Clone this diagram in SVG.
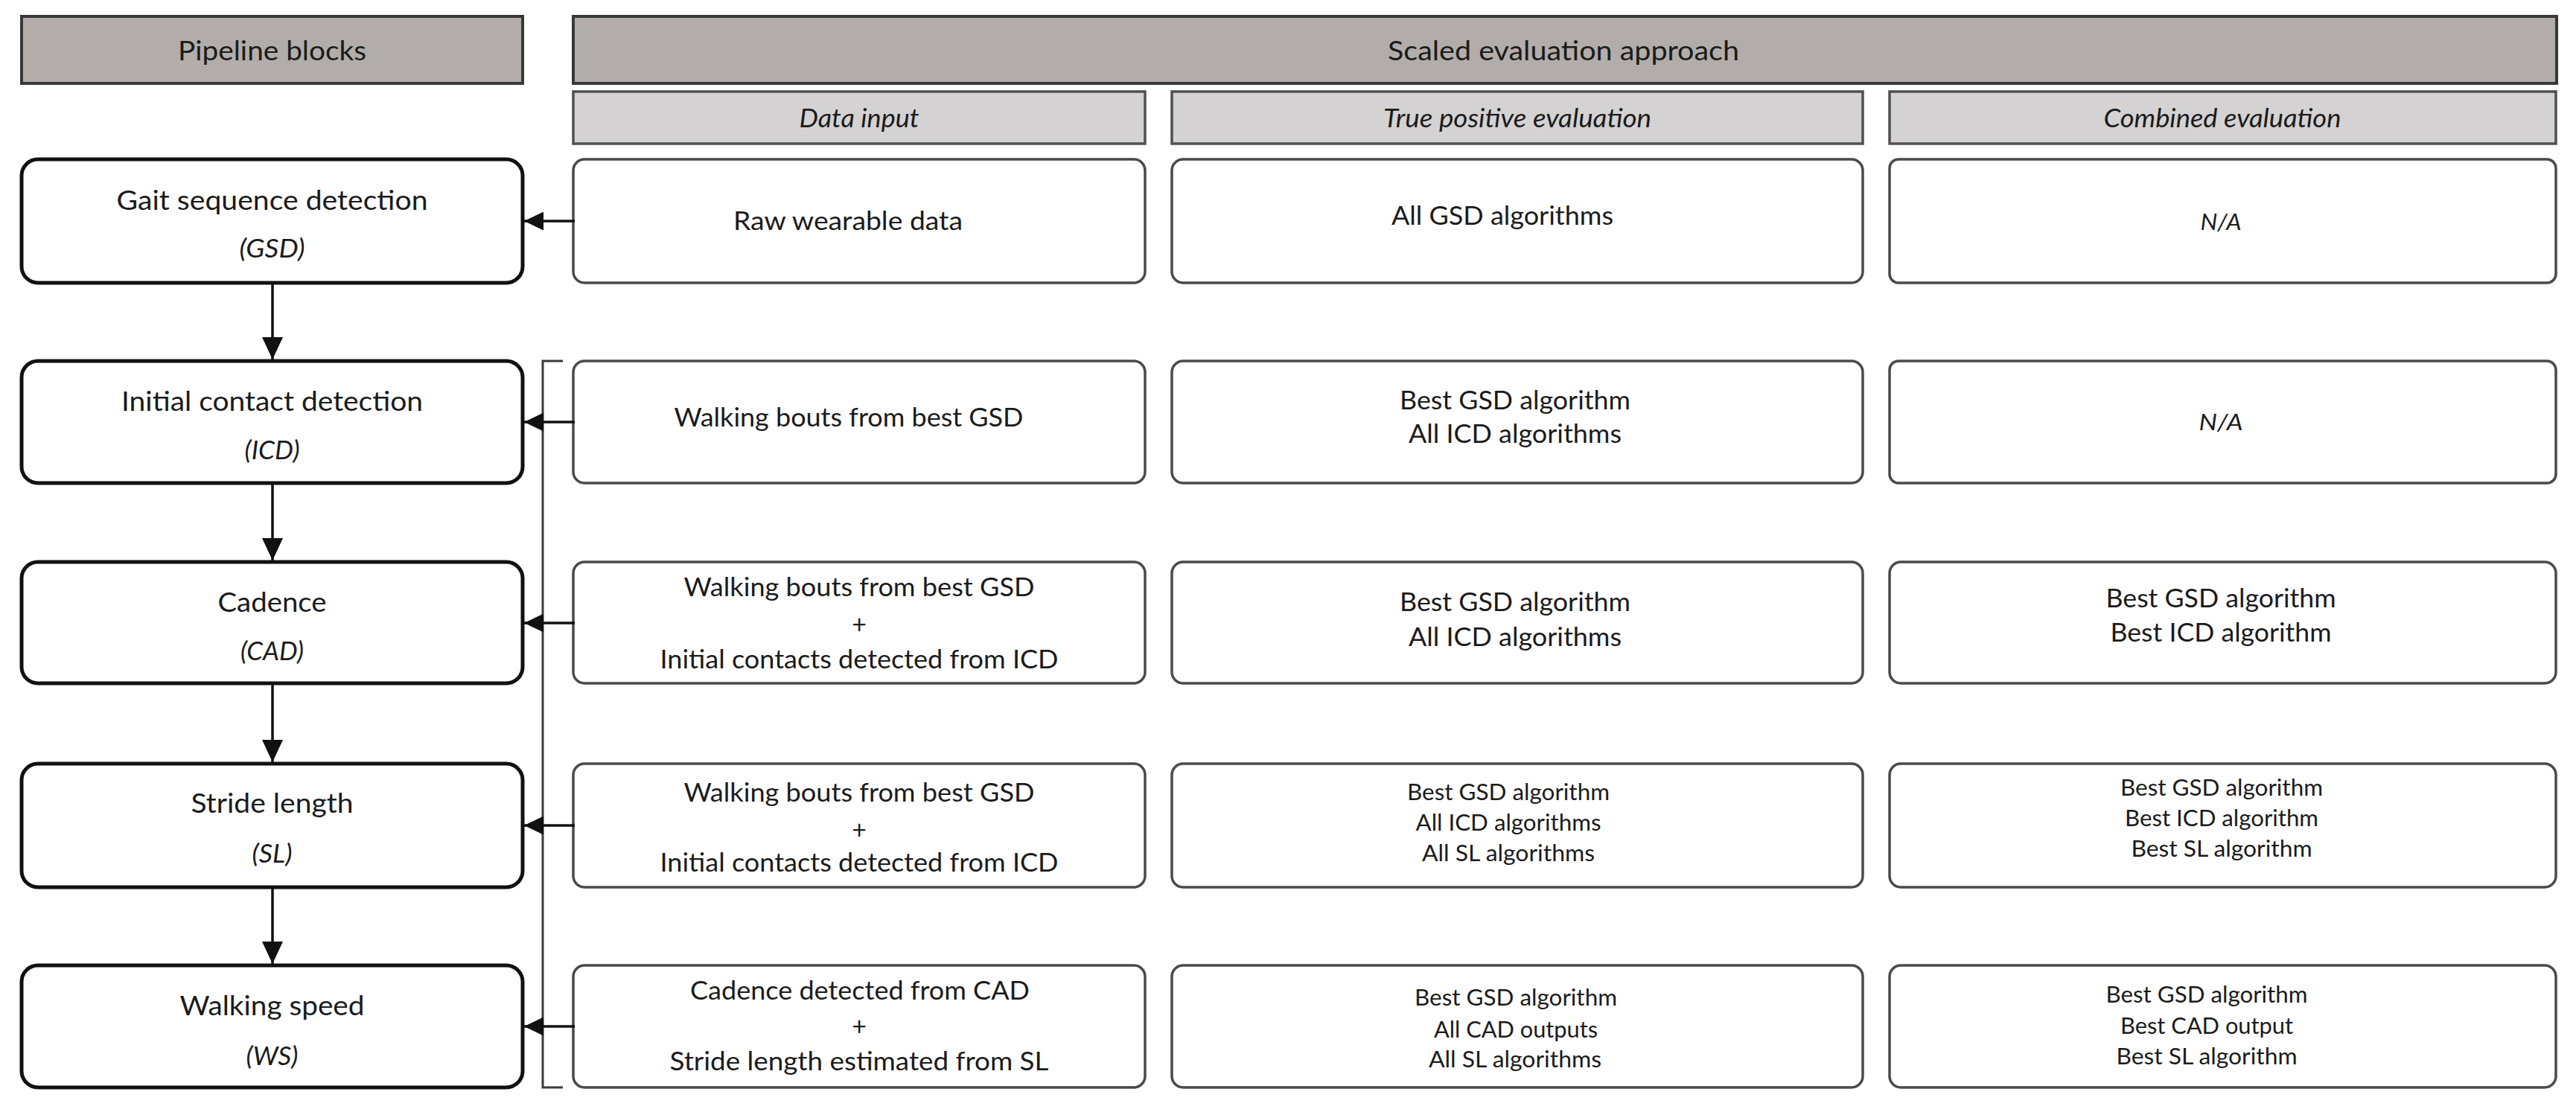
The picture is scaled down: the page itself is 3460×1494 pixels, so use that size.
<svg xmlns="http://www.w3.org/2000/svg" width="3460" height="1494" viewBox="0 0 3460 1494">
<style>
text{font-family:Lato,"Open Sans","Liberation Sans",sans-serif;fill:#1b1b1b;text-anchor:middle}
.hdr{fill:#b2adaa;stroke:#383838;stroke-width:4}
.sub{fill:#d4d2d3;stroke:#505050;stroke-width:3.5}
.pipe{fill:#fff;stroke:#111;stroke-width:5}
.box{fill:#fff;stroke:#4a4a4a;stroke-width:3.5}
.t36{font-size:36px}
.t34{font-size:34px}
.t30{font-size:30px}
.it{font-style:italic}
.con{stroke:#111;stroke-width:3.5;fill:none}
.brk{stroke:#3a3a3a;stroke-width:3;fill:none}
</style>
<defs>
<marker id="ah" markerUnits="userSpaceOnUse" markerWidth="26" markerHeight="25" refX="26" refY="12.5" orient="auto">
<path d="M0,0 L26,12.5 L0,25 Z" fill="#111"/>
</marker>
<marker id="av" markerUnits="userSpaceOnUse" markerWidth="30" markerHeight="28" refX="30" refY="14" orient="auto">
<path d="M0,0 L30,14 L0,28 Z" fill="#111"/>
</marker>
</defs>
<rect width="3460" height="1494" fill="#fff"/>

<g id="header-pipeline">
<rect class="hdr" x="29" y="22" width="673" height="90"/>
<text class="t36" x="365.5" y="81" textLength="253" lengthAdjust="spacingAndGlyphs">Pipeline blocks</text>
</g>
<g id="header-scaled">
<rect class="hdr" x="770" y="22" width="2664" height="90"/>
<text class="t36" x="2100" y="81" textLength="472" lengthAdjust="spacingAndGlyphs">Scaled evaluation approach</text>
</g>
<g id="sub-data-input">
<rect class="sub" x="770" y="123" width="768" height="70"/>
<text class="t34 it" x="1154" y="171" textLength="161" lengthAdjust="spacingAndGlyphs">Data input</text>
</g>
<g id="sub-true-positive">
<rect class="sub" x="1574" y="123" width="928" height="70"/>
<text class="t34 it" x="2038" y="171" textLength="360" lengthAdjust="spacingAndGlyphs">True positive evaluation</text>
</g>
<g id="sub-combined">
<rect class="sub" x="2538" y="123" width="895" height="70"/>
<text class="t34 it" x="2985" y="171" textLength="319" lengthAdjust="spacingAndGlyphs">Combined evaluation</text>
</g>

<g id="gsd">
<rect class="pipe" x="29" y="214" width="673" height="166" rx="22"/>
<text class="t36" x="365.5" y="282" textLength="418" lengthAdjust="spacingAndGlyphs">Gait sequence detection</text>
<text class="t34 it" x="365.5" y="346" textLength="88" lengthAdjust="spacingAndGlyphs">(GSD)</text>
</g>
<g id="icd">
<rect class="pipe" x="29" y="485" width="673" height="164" rx="22"/>
<text class="t36" x="365.5" y="552" textLength="405" lengthAdjust="spacingAndGlyphs">Initial contact detection</text>
<text class="t34 it" x="365.5" y="617" textLength="74" lengthAdjust="spacingAndGlyphs">(ICD)</text>
</g>
<g id="cad">
<rect class="pipe" x="29" y="755" width="673" height="163" rx="22"/>
<text class="t36" x="365.5" y="822" textLength="146" lengthAdjust="spacingAndGlyphs">Cadence</text>
<text class="t34 it" x="365.5" y="887" textLength="85" lengthAdjust="spacingAndGlyphs">(CAD)</text>
</g>
<g id="sl">
<rect class="pipe" x="29" y="1026" width="673" height="166" rx="22"/>
<text class="t36" x="365.5" y="1092" textLength="218" lengthAdjust="spacingAndGlyphs">Stride length</text>
<text class="t34 it" x="365.5" y="1159" textLength="54" lengthAdjust="spacingAndGlyphs">(SL)</text>
</g>
<g id="ws">
<rect class="pipe" x="29" y="1297" width="673" height="164" rx="22"/>
<text class="t36" x="365.5" y="1364" textLength="248" lengthAdjust="spacingAndGlyphs">Walking speed</text>
<text class="t34 it" x="365.5" y="1431" textLength="70" lengthAdjust="spacingAndGlyphs">(WS)</text>
</g>

<g id="data-gsd">
<rect class="box" x="770" y="214" width="768" height="166" rx="15"/>
<text class="t34" x="1139" y="309" textLength="308" lengthAdjust="spacingAndGlyphs">Raw wearable data</text>
</g>
<g id="data-icd">
<rect class="box" x="770" y="485" width="768" height="164" rx="15"/>
<text class="t34" x="1140" y="573" textLength="469" lengthAdjust="spacingAndGlyphs">Walking bouts from best GSD</text>
</g>
<g id="data-cad">
<rect class="box" x="770" y="755" width="768" height="163" rx="15"/>
<text class="t34" x="1154" y="801" textLength="471" lengthAdjust="spacingAndGlyphs">Walking bouts from best GSD</text>
<text class="t34" x="1154" y="851">+</text>
<text class="t34" x="1154" y="898" textLength="535" lengthAdjust="spacingAndGlyphs">Initial contacts detected from ICD</text>
</g>
<g id="data-sl">
<rect class="box" x="770" y="1026" width="768" height="166" rx="15"/>
<text class="t34" x="1154" y="1077" textLength="471" lengthAdjust="spacingAndGlyphs">Walking bouts from best GSD</text>
<text class="t34" x="1154" y="1127">+</text>
<text class="t34" x="1154" y="1171" textLength="535" lengthAdjust="spacingAndGlyphs">Initial contacts detected from ICD</text>
</g>
<g id="data-ws">
<rect class="box" x="770" y="1297" width="768" height="164" rx="15"/>
<text class="t34" x="1155" y="1343" textLength="456" lengthAdjust="spacingAndGlyphs">Cadence detected from CAD</text>
<text class="t34" x="1154" y="1391">+</text>
<text class="t34" x="1154" y="1438" textLength="509" lengthAdjust="spacingAndGlyphs">Stride length estimated from SL</text>
</g>

<g id="tp-gsd">
<rect class="box" x="1574" y="214" width="928" height="166" rx="15"/>
<text class="t34" x="2018" y="302" textLength="298" lengthAdjust="spacingAndGlyphs">All GSD algorithms</text>
</g>
<g id="tp-icd">
<rect class="box" x="1574" y="485" width="928" height="164" rx="15"/>
<text class="t34" x="2035" y="550" textLength="310" lengthAdjust="spacingAndGlyphs">Best GSD algorithm</text>
<text class="t34" x="2035" y="595" textLength="286" lengthAdjust="spacingAndGlyphs">All ICD algorithms</text>
</g>
<g id="tp-cad">
<rect class="box" x="1574" y="755" width="928" height="163" rx="15"/>
<text class="t34" x="2035" y="821" textLength="310" lengthAdjust="spacingAndGlyphs">Best GSD algorithm</text>
<text class="t34" x="2035" y="868" textLength="286" lengthAdjust="spacingAndGlyphs">All ICD algorithms</text>
</g>
<g id="tp-sl">
<rect class="box" x="1574" y="1026" width="928" height="166" rx="15"/>
<text class="t30" x="2026" y="1075" textLength="272" lengthAdjust="spacingAndGlyphs">Best GSD algorithm</text>
<text class="t30" x="2026" y="1116" textLength="249" lengthAdjust="spacingAndGlyphs">All ICD algorithms</text>
<text class="t30" x="2026" y="1157" textLength="232" lengthAdjust="spacingAndGlyphs">All SL algorithms</text>
</g>
<g id="tp-ws">
<rect class="box" x="1574" y="1297" width="928" height="164" rx="15"/>
<text class="t30" x="2036" y="1351" textLength="272" lengthAdjust="spacingAndGlyphs">Best GSD algorithm</text>
<text class="t30" x="2036" y="1394" textLength="220" lengthAdjust="spacingAndGlyphs">All CAD outputs</text>
<text class="t30" x="2035" y="1434" textLength="232" lengthAdjust="spacingAndGlyphs">All SL algorithms</text>
</g>

<g id="comb-gsd">
<rect class="box" x="2538" y="214" width="895" height="166" rx="12"/>
<text class="t30 it" x="2983" y="309" textLength="55" lengthAdjust="spacingAndGlyphs">N/A</text>
</g>
<g id="comb-icd">
<rect class="box" x="2538" y="485" width="895" height="164" rx="12"/>
<text class="t30 it" x="2983" y="578" textLength="59" lengthAdjust="spacingAndGlyphs">N/A</text>
</g>
<g id="comb-cad">
<rect class="box" x="2538" y="755" width="895" height="163" rx="15"/>
<text class="t34" x="2983" y="816" textLength="309" lengthAdjust="spacingAndGlyphs">Best GSD algorithm</text>
<text class="t34" x="2983" y="862" textLength="297" lengthAdjust="spacingAndGlyphs">Best ICD algorithm</text>
</g>
<g id="comb-sl">
<rect class="box" x="2538" y="1026" width="895" height="166" rx="15"/>
<text class="t30" x="2984" y="1069" textLength="272" lengthAdjust="spacingAndGlyphs">Best GSD algorithm</text>
<text class="t30" x="2984" y="1110" textLength="260" lengthAdjust="spacingAndGlyphs">Best ICD algorithm</text>
<text class="t30" x="2984" y="1151" textLength="243" lengthAdjust="spacingAndGlyphs">Best SL algorithm</text>
</g>
<g id="comb-ws">
<rect class="box" x="2538" y="1297" width="895" height="164" rx="15"/>
<text class="t30" x="2964" y="1347" textLength="271" lengthAdjust="spacingAndGlyphs">Best GSD algorithm</text>
<text class="t30" x="2964" y="1389" textLength="232" lengthAdjust="spacingAndGlyphs">Best CAD output</text>
<text class="t30" x="2964" y="1430" textLength="243" lengthAdjust="spacingAndGlyphs">Best SL algorithm</text>
</g>

<g id="connectors">
<path class="brk" d="M756,485 H729 V1461 H756"/>
<line class="con" x1="772" y1="297" x2="704" y2="297" marker-end="url(#ah)"/>
<line class="con" x1="772" y1="567" x2="704" y2="567" marker-end="url(#ah)"/>
<line class="con" x1="772" y1="837" x2="704" y2="837" marker-end="url(#ah)"/>
<line class="con" x1="772" y1="1109" x2="704" y2="1109" marker-end="url(#ah)"/>
<line class="con" x1="772" y1="1379" x2="704" y2="1379" marker-end="url(#ah)"/>
<line class="con" x1="366" y1="382" x2="366" y2="483" marker-end="url(#av)"/>
<line class="con" x1="366" y1="651" x2="366" y2="753" marker-end="url(#av)"/>
<line class="con" x1="366" y1="920" x2="366" y2="1024" marker-end="url(#av)"/>
<line class="con" x1="366" y1="1194" x2="366" y2="1295" marker-end="url(#av)"/>
</g>
</svg>
